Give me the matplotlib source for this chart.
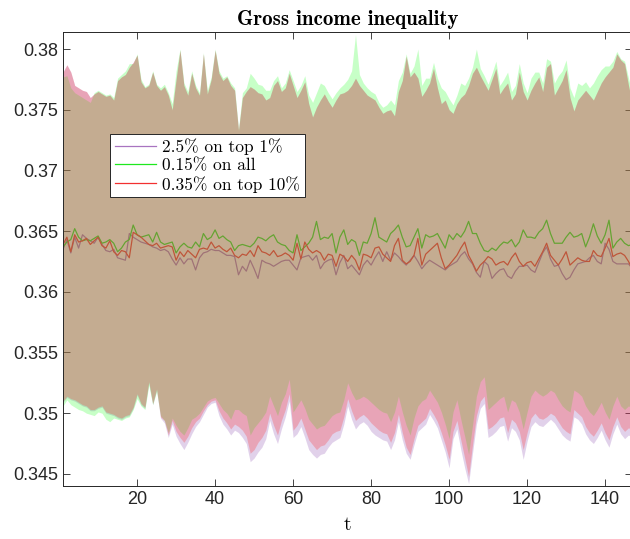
import matplotlib.pyplot as plt
import numpy as np

# time steps
t = np.arange(1, 148)

# mean paths
purple_mean = [0.3635, 0.3643, 0.3632, 0.3645, 0.3636, 0.3647, 0.3644, 0.3642, 0.3640, 0.3645,
               0.3639, 0.3634, 0.3633, 0.3635, 0.3628, 0.3627, 0.3626, 0.3648, 0.3645, 0.3643,
               0.3641, 0.3640, 0.3639, 0.3637, 0.3636, 0.3634, 0.3635, 0.3633, 0.3627, 0.3622,
               0.3628, 0.3623, 0.3627, 0.3627, 0.3618, 0.3628, 0.3632, 0.3633, 0.3635, 0.3634,
               0.3634, 0.3632, 0.3630, 0.3630, 0.3629, 0.3614, 0.3621, 0.3617, 0.3626, 0.3619,
               0.3611, 0.3626, 0.3624, 0.3623, 0.3621, 0.3623, 0.3625, 0.3626, 0.3626, 0.3622,
               0.3618, 0.3628, 0.3629, 0.3630, 0.3626, 0.3630, 0.3619, 0.3624, 0.3626, 0.3627,
               0.3614, 0.3624, 0.3630, 0.3619, 0.3622, 0.3618, 0.3614, 0.3622, 0.3626, 0.3622,
               0.3628, 0.3633, 0.3625, 0.3633, 0.3626, 0.3632, 0.3629, 0.3625, 0.3622, 0.3626,
               0.3630, 0.3625, 0.3619, 0.3623, 0.3626, 0.3624, 0.3622, 0.3620, 0.3618, 0.3621,
               0.3623, 0.3625, 0.3630, 0.3633, 0.3627, 0.3623, 0.3616, 0.3612, 0.3625, 0.3622,
               0.3611, 0.3615, 0.3618, 0.3619, 0.3613, 0.3611, 0.3617, 0.3621, 0.3621, 0.3622,
               0.3618, 0.3616, 0.3624, 0.3632, 0.3637, 0.3627, 0.3621, 0.3622, 0.3615, 0.3610,
               0.3612, 0.3618, 0.3623, 0.3624, 0.3625, 0.3628, 0.3630, 0.3625, 0.3623, 0.3640,
               0.3635, 0.3625, 0.3623, 0.3623, 0.3623, 0.3623, 0.3619]
green_mean = [0.3637, 0.3641, 0.3643, 0.3652, 0.3645, 0.3642, 0.3643, 0.3642, 0.3644, 0.3646,
              0.3640, 0.3641, 0.3643, 0.3640, 0.3633, 0.3636, 0.3641, 0.3643, 0.3655, 0.3647,
              0.3645, 0.3646, 0.3647, 0.3641, 0.3649, 0.3641, 0.3639, 0.3640, 0.3641, 0.3632,
              0.3637, 0.3640, 0.3637, 0.3636, 0.3641, 0.3637, 0.3648, 0.3643, 0.3645, 0.3651,
              0.3644, 0.3646, 0.3643, 0.3641, 0.3634, 0.3638, 0.3639, 0.3638, 0.3637, 0.3640,
              0.3645, 0.3644, 0.3642, 0.3645, 0.3647, 0.3641, 0.3639, 0.3638, 0.3634, 0.3632,
              0.3647, 0.3634, 0.3637, 0.3640, 0.3645, 0.3658, 0.3643, 0.3645, 0.3644, 0.3648,
              0.3632, 0.3645, 0.3651, 0.3639, 0.3643, 0.3641, 0.3630, 0.3641, 0.3640, 0.3648,
              0.3661, 0.3645, 0.3643, 0.3641, 0.3648, 0.3651, 0.3655, 0.3645, 0.3637, 0.3638,
              0.3645, 0.3652, 0.3636, 0.3647, 0.3645, 0.3646, 0.3648, 0.3642, 0.3636, 0.3647,
              0.3643, 0.3648, 0.3645, 0.3650, 0.3658, 0.3648, 0.3648, 0.3640, 0.3634, 0.3633,
              0.3636, 0.3634, 0.3638, 0.3641, 0.3640, 0.3643, 0.3637, 0.3641, 0.3651, 0.3645,
              0.3645, 0.3644, 0.3649, 0.3652, 0.3659, 0.3648, 0.3640, 0.3640, 0.3640, 0.3645,
              0.3649, 0.3645, 0.3646, 0.3648, 0.3637, 0.3645, 0.3656, 0.3646, 0.3640, 0.3647,
              0.3659, 0.3636, 0.3641, 0.3644, 0.3640, 0.3638, 0.3639]
red_mean = [0.3639, 0.3645, 0.3633, 0.3647, 0.3641, 0.3642, 0.3644, 0.3639, 0.3642, 0.3645,
            0.3638, 0.3636, 0.3642, 0.3633, 0.3630, 0.3634, 0.3633, 0.3628, 0.3649, 0.3647,
            0.3645, 0.3642, 0.3639, 0.3638, 0.3640, 0.3636, 0.3637, 0.3638, 0.3637, 0.3626,
            0.3633, 0.3629, 0.3634, 0.3631, 0.3628, 0.3635, 0.3636, 0.3635, 0.3641, 0.3636,
            0.3638, 0.3635, 0.3633, 0.3636, 0.3630, 0.3628, 0.3631, 0.3630, 0.3634, 0.3629,
            0.3638, 0.3633, 0.3632, 0.3630, 0.3634, 0.3629, 0.3630, 0.3632, 0.3630, 0.3626,
            0.3640, 0.3627, 0.3641, 0.3635, 0.3632, 0.3634, 0.3632, 0.3626, 0.3631, 0.3630,
            0.3621, 0.3631, 0.3629, 0.3625, 0.3630, 0.3626, 0.3618, 0.3631, 0.3630, 0.3628,
            0.3636, 0.3637, 0.3631, 0.3628, 0.3625, 0.3638, 0.3644, 0.3626, 0.3623, 0.3625,
            0.3630, 0.3644, 0.3622, 0.3631, 0.3634, 0.3637, 0.3640, 0.3628, 0.3619, 0.3622,
            0.3626, 0.3630, 0.3636, 0.3641, 0.3630, 0.3624, 0.3617, 0.3622, 0.3625, 0.3629,
            0.3627, 0.3622, 0.3624, 0.3625, 0.3622, 0.3628, 0.3632, 0.3625, 0.3621, 0.3624,
            0.3625, 0.3621, 0.3627, 0.3633, 0.3640, 0.3630, 0.3626, 0.3622, 0.3627, 0.3633,
            0.3622, 0.3625, 0.3628, 0.3626, 0.3625, 0.3625, 0.3634, 0.3630, 0.3629, 0.3636,
            0.3644, 0.3629, 0.3631, 0.3632, 0.3630, 0.3625, 0.3619]

# upper edges of the bands
purple_hi = [0.3781, 0.3787, 0.3781, 0.3770, 0.3768, 0.3766, 0.3765, 0.3760, 0.3763, 0.3765,
             0.3763, 0.3761, 0.3762, 0.3758, 0.3774, 0.3777, 0.3779, 0.3785, 0.3789, 0.3795,
             0.3773, 0.3768, 0.3770, 0.3781, 0.3770, 0.3766, 0.3769, 0.3762, 0.3750, 0.3775,
             0.3799, 0.3770, 0.3762, 0.3780, 0.3768, 0.3762, 0.3796, 0.3763, 0.3775, 0.3799,
             0.3780, 0.3774, 0.3777, 0.3770, 0.3766, 0.3733, 0.3760, 0.3765, 0.3769, 0.3767,
             0.3764, 0.3763, 0.3758, 0.3760, 0.3770, 0.3774, 0.3765, 0.3768, 0.3780, 0.3770,
             0.3760, 0.3766, 0.3773, 0.3755, 0.3744, 0.3752, 0.3758, 0.3763, 0.3757, 0.3752,
             0.3758, 0.3763, 0.3764, 0.3766, 0.3770, 0.3776, 0.3770, 0.3766, 0.3762, 0.3760,
             0.3758, 0.3752, 0.3747, 0.3749, 0.3750, 0.3745, 0.3765, 0.3774, 0.3794, 0.3777,
             0.3781, 0.3776, 0.3761, 0.3766, 0.3772, 0.3784, 0.3768, 0.3755, 0.3758, 0.3750,
             0.3747, 0.3755, 0.3760, 0.3763, 0.3770, 0.3780, 0.3785, 0.3778, 0.3772, 0.3766,
             0.3775, 0.3784, 0.3763, 0.3768, 0.3772, 0.3758, 0.3763, 0.3781, 0.3765, 0.3758,
             0.3766, 0.3772, 0.3777, 0.3765, 0.3785, 0.3788, 0.3762, 0.3768, 0.3774, 0.3783,
             0.3760, 0.3749, 0.3758, 0.3762, 0.3766, 0.3762, 0.3758, 0.3765, 0.3772, 0.3777,
             0.3781, 0.3785, 0.3796, 0.3791, 0.3788, 0.3770, 0.3755]
green_hi = [0.3777, 0.3778, 0.3768, 0.3764, 0.3762, 0.3760, 0.3758, 0.3756, 0.3764, 0.3766,
            0.3764, 0.3762, 0.3763, 0.3760, 0.3776, 0.3779, 0.3782, 0.3788, 0.3788, 0.3796,
            0.3775, 0.3769, 0.3771, 0.3782, 0.3771, 0.3768, 0.3771, 0.3764, 0.3755, 0.3782,
            0.3800, 0.3772, 0.3765, 0.3782, 0.3770, 0.3764, 0.3797, 0.3766, 0.3777, 0.3800,
            0.3782, 0.3776, 0.3778, 0.3772, 0.3768, 0.3734, 0.3764, 0.3768, 0.3780, 0.3776,
            0.3771, 0.3770, 0.3766, 0.3766, 0.3774, 0.3778, 0.3768, 0.3772, 0.3783, 0.3774,
            0.3765, 0.3770, 0.3778, 0.3762, 0.3756, 0.3764, 0.3772, 0.3770, 0.3764, 0.3759,
            0.3764, 0.3768, 0.3771, 0.3775, 0.3782, 0.3812, 0.3779, 0.3772, 0.3768, 0.3765,
            0.3763, 0.3756, 0.3752, 0.3754, 0.3758, 0.3754, 0.3774, 0.3781, 0.3796, 0.3780,
            0.3786, 0.3800, 0.3770, 0.3776, 0.3776, 0.3789, 0.3776, 0.3768, 0.3765, 0.3759,
            0.3754, 0.3762, 0.3772, 0.3770, 0.3776, 0.3785, 0.3800, 0.3784, 0.3778, 0.3771,
            0.3780, 0.3790, 0.3770, 0.3775, 0.3781, 0.3765, 0.3770, 0.3788, 0.3772, 0.3764,
            0.3776, 0.3781, 0.3781, 0.3772, 0.3792, 0.3790, 0.3772, 0.3778, 0.3782, 0.3791,
            0.3768, 0.3760, 0.3772, 0.3770, 0.3773, 0.3768, 0.3772, 0.3778, 0.3783, 0.3786,
            0.3786, 0.3790, 0.3798, 0.3792, 0.3790, 0.3776, 0.3762]
red_hi = purple_hi

# lower edges of the bands
purple_lo = [0.3509, 0.3513, 0.3511, 0.3510, 0.3508, 0.3506, 0.3505, 0.3502, 0.3502, 0.3504,
             0.3505, 0.3500, 0.3499, 0.3498, 0.3496, 0.3495, 0.3497, 0.3498, 0.3504, 0.3515,
             0.3507, 0.3504, 0.3525, 0.3507, 0.3519, 0.3496, 0.3492, 0.3480, 0.3491, 0.3481,
             0.3475, 0.3470, 0.3476, 0.3483, 0.3489, 0.3493, 0.3499, 0.3505, 0.3508, 0.3509,
             0.3498, 0.3491, 0.3487, 0.3482, 0.3486, 0.3484, 0.3480, 0.3475, 0.3460, 0.3463,
             0.3468, 0.3472, 0.3479, 0.3494, 0.3483, 0.3475, 0.3487, 0.3497, 0.3510, 0.3480,
             0.3483, 0.3489, 0.3480, 0.3470, 0.3466, 0.3463, 0.3466, 0.3467, 0.3472, 0.3476,
             0.3478, 0.3480, 0.3491, 0.3506, 0.3495, 0.3487, 0.3491, 0.3493, 0.3490, 0.3485,
             0.3482, 0.3480, 0.3478, 0.3477, 0.3470, 0.3478, 0.3493, 0.3478, 0.3467, 0.3462,
             0.3474, 0.3485, 0.3488, 0.3491, 0.3499, 0.3494, 0.3488, 0.3478, 0.3468, 0.3455,
             0.3479, 0.3487, 0.3470, 0.3455, 0.3442, 0.3467, 0.3491, 0.3504, 0.3508, 0.3480,
             0.3482, 0.3485, 0.3489, 0.3490, 0.3477, 0.3488, 0.3485, 0.3478, 0.3462, 0.3477,
             0.3489, 0.3493, 0.3490, 0.3489, 0.3492, 0.3495, 0.3492, 0.3487, 0.3482, 0.3479,
             0.3477, 0.3497, 0.3495, 0.3491, 0.3483, 0.3478, 0.3475, 0.3480, 0.3486, 0.3478,
             0.3472, 0.3483, 0.3491, 0.3483, 0.3479, 0.3482, 0.3480]
green_lo = [0.3506, 0.3511, 0.3507, 0.3505, 0.3503, 0.3502, 0.3500, 0.3499, 0.3498, 0.3501,
            0.3500, 0.3495, 0.3493, 0.3496, 0.3495, 0.3494, 0.3496, 0.3497, 0.3503, 0.3512,
            0.3506, 0.3503, 0.3523, 0.3507, 0.3518, 0.3498, 0.3494, 0.3484, 0.3496, 0.3490,
            0.3485, 0.3482, 0.3488, 0.3495, 0.3497, 0.3500, 0.3505, 0.3510, 0.3512, 0.3513,
            0.3508, 0.3503, 0.3500, 0.3495, 0.3503, 0.3503, 0.3500, 0.3498, 0.3482, 0.3488,
            0.3492, 0.3496, 0.3501, 0.3514, 0.3506, 0.3498, 0.3509, 0.3516, 0.3528, 0.3501,
            0.3506, 0.3511, 0.3504, 0.3495, 0.3491, 0.3487, 0.3489, 0.3490, 0.3494, 0.3498,
            0.3500, 0.3501, 0.3511, 0.3525, 0.3517, 0.3511, 0.3512, 0.3514, 0.3512, 0.3509,
            0.3506, 0.3503, 0.3501, 0.3500, 0.3493, 0.3501, 0.3514, 0.3501, 0.3490, 0.3482,
            0.3496, 0.3506, 0.3510, 0.3512, 0.3519, 0.3514, 0.3509, 0.3501, 0.3491, 0.3479,
            0.3501, 0.3511, 0.3495, 0.3481, 0.3466, 0.3490, 0.3514, 0.3526, 0.3530, 0.3503,
            0.3506, 0.3509, 0.3512, 0.3514, 0.3501, 0.3511, 0.3509, 0.3501, 0.3487, 0.3501,
            0.3514, 0.3519, 0.3516, 0.3514, 0.3516, 0.3519, 0.3517, 0.3511, 0.3506, 0.3503,
            0.3501, 0.3519, 0.3517, 0.3514, 0.3506, 0.3501, 0.3498, 0.3503, 0.3509, 0.3501,
            0.3495, 0.3506, 0.3514, 0.3506, 0.3503, 0.3506, 0.3504]
red_lo = [0.3510, 0.3514, 0.3512, 0.3511, 0.3509, 0.3507, 0.3506, 0.3503, 0.3503, 0.3505,
          0.3506, 0.3501, 0.3500, 0.3499, 0.3497, 0.3496, 0.3498, 0.3499, 0.3505, 0.3516,
          0.3508, 0.3505, 0.3526, 0.3508, 0.3520, 0.3497, 0.3494, 0.3482, 0.3494, 0.3485,
          0.3480, 0.3476, 0.3481, 0.3488, 0.3493, 0.3496, 0.3502, 0.3507, 0.3510, 0.3511,
          0.3502, 0.3496, 0.3492, 0.3487, 0.3491, 0.3489, 0.3486, 0.3481, 0.3467, 0.3470,
          0.3476, 0.3480, 0.3486, 0.3500, 0.3490, 0.3482, 0.3494, 0.3503, 0.3516, 0.3486,
          0.3490, 0.3496, 0.3487, 0.3478, 0.3474, 0.3470, 0.3473, 0.3474, 0.3478, 0.3483,
          0.3485, 0.3486, 0.3497, 0.3512, 0.3502, 0.3494, 0.3497, 0.3499, 0.3496, 0.3492,
          0.3489, 0.3486, 0.3484, 0.3483, 0.3476, 0.3484, 0.3499, 0.3484, 0.3472, 0.3466,
          0.3479, 0.3490, 0.3493, 0.3496, 0.3504, 0.3499, 0.3493, 0.3484, 0.3474, 0.3462,
          0.3485, 0.3494, 0.3478, 0.3463, 0.3448, 0.3474, 0.3498, 0.3510, 0.3514, 0.3487,
          0.3489, 0.3492, 0.3496, 0.3497, 0.3484, 0.3495, 0.3492, 0.3485, 0.3470, 0.3484,
          0.3496, 0.3500, 0.3496, 0.3495, 0.3497, 0.3500, 0.3498, 0.3493, 0.3488, 0.3485,
          0.3483, 0.3503, 0.3500, 0.3497, 0.3489, 0.3484, 0.3481, 0.3486, 0.3492, 0.3484,
          0.3478, 0.3489, 0.3497, 0.3489, 0.3485, 0.3488, 0.3486]

labels = ['2.5% on top 1%', '0.15% on all', '0.35% on top 10%']
yticks = [0.345, 0.35, 0.355, 0.36, 0.365, 0.37, 0.375, 0.38]
ytick_labels = ['0.345', '0.35', '0.355', '0.36', '0.365', '0.37', '0.375', '0.38']
xticks = [20, 40, 60, 80, 100, 120, 140]

line_colors = ['#A874C0', '#1EE81E', '#F23030']
fill_colors = ['#8A4BAF', '#23FF23', '#FF2020']

fig = plt.figure(figsize=(6.3, 5.39), dpi=100)
ax = fig.add_axes([0.1, 0.0983, 0.9038, 0.8423])

means = [purple_mean, green_mean, red_mean]
his = [purple_hi, green_hi, red_hi]
los = [purple_lo, green_lo, red_lo]

# lines sit under the translucent bands
handles = []
for m, c, lab in zip(means, line_colors, labels):
    h, = ax.plot(t, m, color=c, lw=0.9, label=lab, zorder=1)
    handles.append(h)
for lo, hi, c in zip(los, his, fill_colors):
    ax.fill_between(t, lo, hi, color=c, alpha=0.25, lw=0, zorder=2)

ax.set_xlim(1, 147)
ax.set_ylim(0.3440, 0.3814)
ax.set_xticks(xticks)
ax.set_yticks(yticks)
ax.set_yticklabels(ytick_labels)
ax.tick_params(direction='in', top=True, right=True, length=5, width=0.6,
               labelsize=13, colors='#262626')
for lbl in ax.get_xticklabels() + ax.get_yticklabels():
    lbl.set_family('Liberation Sans')
for s in ax.spines.values():
    s.set_color('#262626')
    s.set_linewidth(0.7)

ax.set_title('Gross income inequality', fontfamily='cmb10', fontsize=15, pad=5)
ax.set_xlabel('t', fontfamily='cmr10', fontsize=14, labelpad=6)

leg = ax.legend(handles=handles, loc='upper left', bbox_to_anchor=(0.083, 0.775),
                prop={'family': 'cmr10', 'size': 12.5}, frameon=True, fancybox=False,
                edgecolor='#262626', framealpha=1, handlelength=2.4, handletextpad=0.35,
                labelspacing=0.15, borderpad=0.25, borderaxespad=0)
leg.get_frame().set_linewidth(0.7)
leg.set_zorder(5)

fig.savefig('out.png', dpi=100)
